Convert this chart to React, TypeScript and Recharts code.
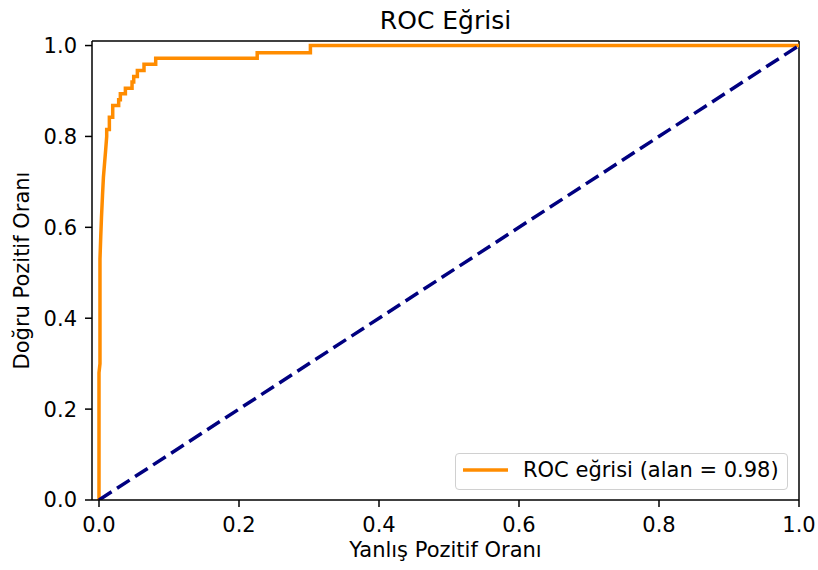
import { LineChart, Line, XAxis, YAxis, ReferenceLine } from "recharts";

// ROC points (fpr, tpr)
const rocFpr = [
  0, 0, 0.0014, 0.0014, 0.0025, 0.0035, 0.005, 0.0063, 0.0095, 0.011, 0.011, 0.0148, 0.0148, 0.0196,
  0.0196, 0.0281, 0.0281, 0.0305, 0.0305, 0.0377, 0.0377, 0.0472, 0.0472, 0.0496, 0.0496, 0.0548,
  0.0548, 0.0643, 0.0643, 0.081, 0.081, 0.226, 0.226, 0.302, 0.302, 1.0,
];
const rocTpr = [
  0, 0.28, 0.3, 0.53, 0.58, 0.62, 0.67, 0.71, 0.77, 0.8, 0.815, 0.815, 0.842, 0.842,
  0.868, 0.868, 0.881, 0.881, 0.894, 0.894, 0.906, 0.906, 0.92, 0.92, 0.932, 0.932,
  0.945, 0.945, 0.959, 0.959, 0.972, 0.972, 0.984, 0.984, 1.0, 1.0,
];
const diagFpr = [0, 1];
const diagTpr = [0, 1];
const ticks = [0, 0.2, 0.4, 0.6, 0.8, 1.0];

const rocData = rocFpr.map((x, i) => ({ x, y: rocTpr[i] }));
const diagData = diagFpr.map((x, i) => ({ x, y: diagTpr[i] }));

const FONT = "'DejaVu Sans', sans-serif";
const fmt = (v: number) => v.toFixed(1);

export default function App() {
  return (
    <div style={{ position: "absolute", left: 0, top: 0, width: 818, height: 570, background: "#fff", fontFamily: FONT }}>
      <div
        style={{
          position: "absolute",
          left: 92,
          width: 707,
          top: 8,
          textAlign: "center",
          fontSize: 25,
          lineHeight: "25px",
          color: "#000",
        }}
      >
        ROC Eğrisi
      </div>
      <LineChart width={818} height={570} margin={{ top: 41, right: 19, left: 0, bottom: 0 }}>
        <XAxis
          dataKey="x"
          type="number"
          domain={[-0.01, 1.0]}
          allowDataOverflow
          ticks={ticks}
          tickFormatter={fmt}
          height={70}
          tickSize={7}
          tickMargin={10}
          tick={{ fontSize: 21, fill: "#000", fontFamily: FONT }}
          tickLine={{ stroke: "#000", strokeWidth: 1.5 }}
          axisLine={{ stroke: "#000", strokeWidth: 1.5 }}
          label={{ value: "Yanlış Pozitif Oranı", position: "insideBottom", offset: 13, fontSize: 21, fill: "#000", fontFamily: FONT }}
        />
        <YAxis
          type="number"
          domain={[0, 1.01]}
          allowDataOverflow
          ticks={ticks}
          tickFormatter={fmt}
          width={92}
          tickSize={7}
          tickMargin={8}
          tick={{ fontSize: 21, fill: "#000", fontFamily: FONT }}
          tickLine={{ stroke: "#000", strokeWidth: 1.5 }}
          axisLine={{ stroke: "#000", strokeWidth: 1.5 }}
          label={{
            value: "Doğru Pozitif Oranı",
            angle: -90,
            position: "insideLeft",
            offset: 22,
            fontSize: 21,
            fill: "#000",
            fontFamily: FONT,
            style: { textAnchor: "middle" },
          }}
        />
        <ReferenceLine y={1.01} stroke="#000" strokeWidth={1.5} />
        <ReferenceLine x={1.0} stroke="#000" strokeWidth={1.5} />
        <Line
          data={rocData}
          dataKey="y"
          type="linear"
          stroke="#ff8c00"
          strokeWidth={3.5}
          dot={false}
          activeDot={false}
          isAnimationActive={false}
          name="ROC eğrisi (alan = 0.98)"
        />
        <Line
          data={diagData}
          dataKey="y"
          type="linear"
          stroke="#000080"
          strokeWidth={3.5}
          strokeDasharray="15 6.5"
          dot={false}
          activeDot={false}
          isAnimationActive={false}
          legendType="none"
        />
      </LineChart>
      <div
        style={{
          position: "absolute",
          left: 455,
          top: 453,
          width: 333,
          height: 37,
          boxSizing: "border-box",
          border: "1px solid #d0d0d0",
          borderRadius: 4,
          background: "rgba(255,255,255,0.8)",
        }}
      >
        <svg style={{ position: "absolute", left: 0, top: 0 }} width={60} height={35}>
          <line x1={7} y1={16} x2={52} y2={16} stroke="#ff8c00" strokeWidth={3.5} />
        </svg>
        <span style={{ position: "absolute", left: 67, top: 6, fontSize: 21, lineHeight: "21px", whiteSpace: "nowrap", color: "#000" }}>
          ROC eğrisi (alan = 0.98)
        </span>
      </div>
    </div>
  );
}
